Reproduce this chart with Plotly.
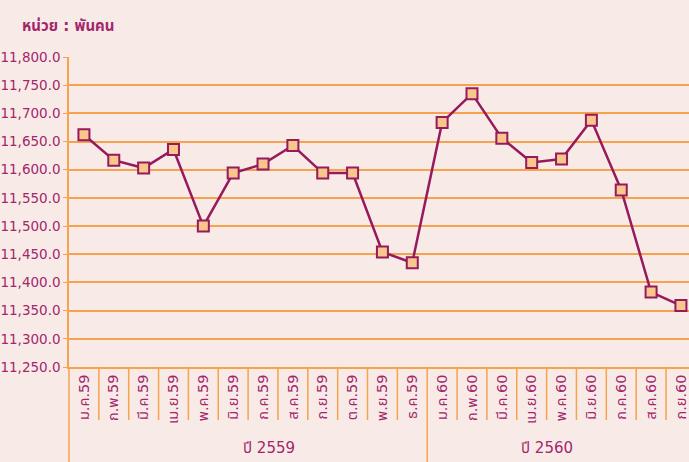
import plotly.graph_objects as go

# -------------------------------------------------
# Data
# -------------------------------------------------
months = [
    "ม.ค.59", "ก.พ.59", "มี.ค.59", "เม.ย.59", "พ.ค.59", "มิ.ย.59",
    "ก.ค.59", "ส.ค.59", "ก.ย.59", "ต.ค.59", "พ.ย.59", "ธ.ค.59",
    "ม.ค.60", "ก.พ.60", "มี.ค.60", "เม.ย.60", "พ.ค.60", "มิ.ย.60",
    "ก.ค.60", "ส.ค.60", "ก.ย.60",
]
values = [
    11662, 11617, 11603, 11636, 11500, 11594,
    11610, 11643, 11594, 11594, 11454, 11435,
    11684, 11735, 11656, 11613, 11619, 11688,
    11564, 11383, 11359,
]
years = ["ปี 2559", "ปี 2560"]
year_sizes = [12, 9]

MAGENTA = "#961a5c"
TEXT = "#a3266c"
GRID = "#f7a24c"
BG = "#f8ebe7"
FONT = "'DejaVu Sans', 'Noto Sans Thai', sans-serif"

# plot area in pixels
PLOT_H = 462 - 57 - 95
PLOT_W = 689 - 69

fig = go.Figure()

fig.add_trace(
    go.Scatter(
        x=months,
        y=values,
        mode="lines+markers",
        line=dict(color=MAGENTA, width=2.5),
        marker=dict(
            symbol="square",
            size=11,
            color="#f9c68c",
            line=dict(color=MAGENTA, width=2),
        ),
        showlegend=False,
        cliponaxis=False,
    )
)

# -------------------------------------------------
# Category dividers under the axis
# -------------------------------------------------
short_y = -53 / PLOT_H
long_y = -95 / PLOT_H
group_ends = [sum(year_sizes[: i + 1]) for i in range(len(year_sizes))]
for i in range(len(months) - 1):
    b = i + 0.5
    long_line = (i + 1) in group_ends
    fig.add_shape(
        type="line",
        xref="x",
        yref="paper",
        x0=b,
        x1=b,
        y0=0,
        y1=long_y if long_line else short_y,
        line=dict(color=GRID, width=1.5),
    )

# left axis extension
fig.add_shape(
    type="line",
    xref="paper",
    yref="paper",
    x0=0,
    x1=0,
    y0=0,
    y1=long_y,
    line=dict(color=GRID, width=1.5),
)

# Year group labels
year_pos = [6.2, 15.5]
for label, xp in zip(years, year_pos):
    fig.add_annotation(
        x=xp,
        xref="x",
        y=-81 / PLOT_H,
        yref="paper",
        yanchor="middle",
        text=label,
        showarrow=False,
        font=dict(size=15, color=TEXT, family=FONT),
    )

# Unit label
fig.add_annotation(
    x=-49 / PLOT_W,
    xref="paper",
    xanchor="left",
    y=1 + 31 / PLOT_H,
    yref="paper",
    yanchor="middle",
    text="<b>หน่วย : พันคน</b>",
    showarrow=False,
    font=dict(size=15, color=TEXT, family=FONT),
)

fig.update_layout(
    width=689,
    height=462,
    margin=dict(l=69, r=0, t=57, b=95, autoexpand=False),
    paper_bgcolor=BG,
    plot_bgcolor="rgba(0,0,0,0)",
    font=dict(family=FONT, color=TEXT),
    xaxis=dict(
        type="category",
        range=[-0.5, 20.27],
        tickangle=-90,
        tickfont=dict(size=14.5, color=TEXT),
        showgrid=False,
        showline=True,
        linecolor=GRID,
        linewidth=1.5,
        ticks="",
        automargin=False,
    ),
    yaxis=dict(
        range=[11250, 11800],
        dtick=50,
        tickformat=",.1f",
        tickfont=dict(size=13.5, color=TEXT),
        showgrid=True,
        gridcolor=GRID,
        gridwidth=1.5,
        showline=True,
        linecolor=GRID,
        linewidth=1.5,
        ticks="outside",
        ticklen=4,
        tickcolor=GRID,
        zeroline=False,
        automargin=False,
    ),
)

# remove the page's default body margin so the figure fills the window
fig.write_html(
    "out.html",
    config={"displayModeBar": False},
    post_script=f"document.body.style.margin='0';document.body.style.background='{BG}';",
)
